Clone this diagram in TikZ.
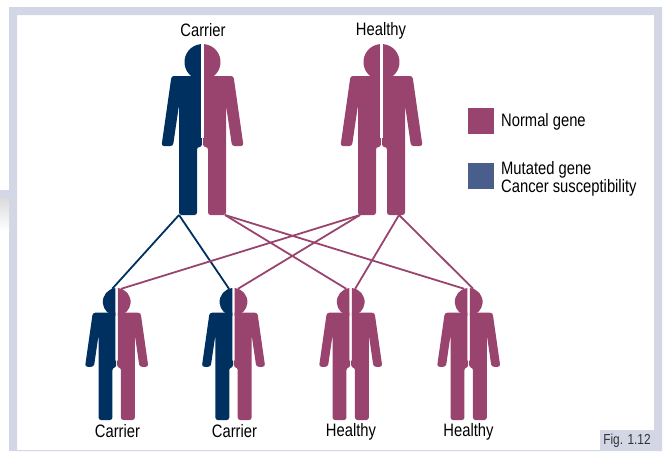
\documentclass[tikz,border=0pt]{standalone}
\usepackage{fontspec}
\setmainfont[FakeStretch=0.82]{Liberation Sans}
\definecolor{genenavy}{HTML}{00305F}
\definecolor{generose}{HTML}{99446E}
\definecolor{geneblue}{HTML}{4A5E8C}
\definecolor{framelilac}{HTML}{D3D7E5}
\tikzset{
  label text/.style={font=\fontsize{18}{20}\selectfont,inner sep=0pt,text=black},
  line rose/.style={generose,line width=1.8pt},
  line navy/.style={genenavy,line width=1.8pt},
  pics/halfbody/.style={code={
    \fill[pic actions] (-1.6,0.1) arc[start angle=265,end angle=95,radius=18] -- cycle;
    \fill[pic actions,rounded corners=2.5pt] (-1.6,32)--(-31,32)--(-41,102)--(-29.5,102)--(-23.5,61)--(-23.5,171)--(-5.5,171)--(-5.5,103)--(-0.6,103)
      [sharp corners]--(-0.6,94)--(-1.6,94)--cycle;
  }},
  pics/person/.style n args={2}{code={
    \pic[fill=#1] {halfbody};
    \pic[fill=#2,xscale=-1] {halfbody};
    \coordinate (-lo) at (-23.5,171); %feet
    \coordinate (-li) at (-21.5,171);
    \coordinate (-ro) at (22.5,171);
    \coordinate (-ri) at (17.5,171);
    \coordinate (-hl) at (-5.8,1); %head
    \coordinate (-hr) at (5.8,1);
  }}
}
\begin{document}
\begin{tikzpicture}[x=1pt,y=-1pt]
    \useasboundingbox (0,0) rectangle (665,451);
    \fill[framelilac,even odd rule] (9,7) rectangle (662,451) (17,15) rectangle (654,450); %frame
    \fill[framelilac] (0,190) rectangle (9,198);
    \shade[top color=black!14,bottom color=white] (0,198) rectangle (9,231);
    \fill[framelilac] (600,430) rectangle (654,450);
    \pic (carrier) at (202.5,44) {person={genenavy}{generose}};
    \pic (healthy) at (381.5,44) {person={generose}{generose}};
    \pic[transform shape,scale=.772] (kidA) at (116.7,288) {person={genenavy}{generose}};
    \pic[transform shape,scale=.772] (kidB) at (233.5,288) {person={genenavy}{generose}};
    \pic[transform shape,scale=.772] (kidC) at (350.7,288) {person={generose}{generose}};
    \pic[transform shape,scale=.772] (kidD) at (468.7,288) {person={generose}{generose}};
    \draw[line navy] (carrier-lo)--(kidA-hl);
    \draw[line navy] (carrier-lo)--(kidB-hl);
    \draw[line rose] (carrier-ro)--(kidC-hl);
    \draw[line rose] (carrier-ro)--(kidD-hl);
    \draw[line rose] (healthy-li)--(kidA-hr);
    \draw[line rose] (healthy-li)--(kidB-hr);
    \draw[line rose] (healthy-ri)--(kidC-hr);
    \draw[line rose] (healthy-ri)--(kidD-hr);
    \node[label text] (labcarrier) at (203,30) {Carrier};
    \node[label text] (labhealthy) at (381,30.5) {Healthy};
    \node[label text] (labkidA) at (117.5,431.5) {Carrier};
    \node[label text] (labkidB) at (234.5,431.5) {Carrier};
    \node[label text] (labkidC) at (351,432) {Healthy};
    \node[label text] (labkidD) at (468.5,432) {Healthy};
    \fill[generose] (468,108) rectangle (494,134); %legend
    \fill[geneblue] (468,163) rectangle (494,189);
    \node[label text,anchor=west] (labnormal) at (501,122) {Normal gene};
    \node[label text,anchor=west] (labmutated) at (501,170) {Mutated gene};
    \node[label text,anchor=west] (labcancer) at (501,188) {Cancer susceptibility};
    \node[font=\fontsize{14.5}{15}\selectfont,inner sep=0pt,text=black!80] (labfig) at (627,440.5) {Fig. 1.12};
\end{tikzpicture}
\end{document}
